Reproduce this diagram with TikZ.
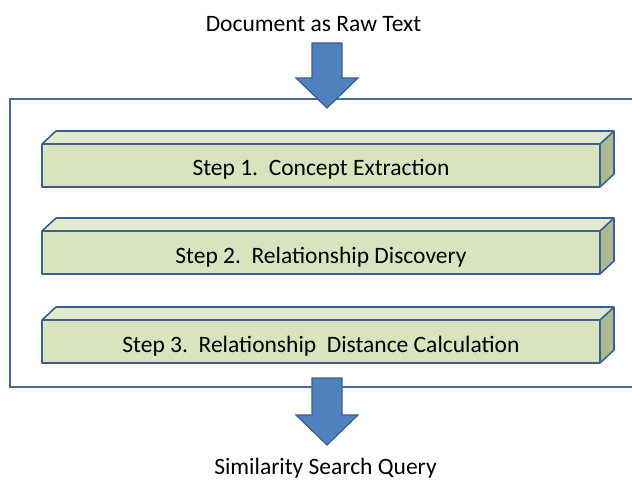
\documentclass[tikz,border=0pt]{standalone}
\usepackage{fontspec}
\setmainfont{Carlito}
\definecolor{arrowblue}{HTML}{4F81BD}
\definecolor{arrowedge}{HTML}{3A5F8E}
\definecolor{boxedge}{HTML}{3B5F8F}
\definecolor{frontface}{HTML}{D7E4BD}
\definecolor{topface}{HTML}{E1EACB}
\definecolor{sideface}{HTML}{ADB994}
\definecolor{frameedge}{HTML}{4A6C98}
\begin{document}
\begin{tikzpicture}[x=1pt,y=-1pt,
  bigarrow/.style={fill=arrowblue,draw=arrowedge,line width=1.2pt,line join=miter},
  face/.style={draw=boxedge,line width=1.6pt,line join=round},
  lbl/.style={font=\fontsize{23.5}{28}\selectfont,inner sep=0pt,anchor=base}]
\useasboundingbox (0,0) rectangle (632,481);
% frame
\draw[frameedge,line width=1.3pt] (640,99) -- (10,99) -- (10,387) -- (640,387);
% top label and arrow
\node[lbl] (src) at (313.5,32) {Document as Raw Text};
\draw[bigarrow] (312,43) -- (342,43) -- (342,78) -- (358,78) -- (327,108) -- (296,78) -- (312,78) -- cycle;
% steps
\foreach \y/\t/\n in {144/{Step 1.\ \ Concept Extraction}/s1, 231/{Step 2.\ \ Relationship Discovery}/s2, 320/{Step 3.\ \ Relationship\ \ Distance Calculation}/s3}{
  \fill[topface] (42,\y) -- (56,\y-13) -- (614,\y-13) -- (600,\y) -- cycle;
  \fill[sideface] (600,\y) -- (614,\y-13) -- (614,\y+30) -- (600,\y+43) -- cycle;
  \fill[frontface] (42,\y) rectangle (600,\y+43);
  \draw[face] (42,\y) -- (56,\y-13) -- (614,\y-13) -- (614,\y+30) -- (600,\y+43) -- (42,\y+43) -- cycle;
  \draw[face] (42,\y) -- (600,\y) -- (614,\y-13);
  \draw[face] (600,\y) -- (600,\y+43);
  \node[lbl] (\n) at (321,\y+32) {\t};
}
% bottom arrow and label
\draw[bigarrow] (312,378) -- (342,378) -- (342,415) -- (358,415) -- (327,445) -- (296,415) -- (312,415) -- cycle;
\node[lbl] (dst) at (325.5,474.5) {Similarity Search Query};
\end{tikzpicture}
\end{document}
